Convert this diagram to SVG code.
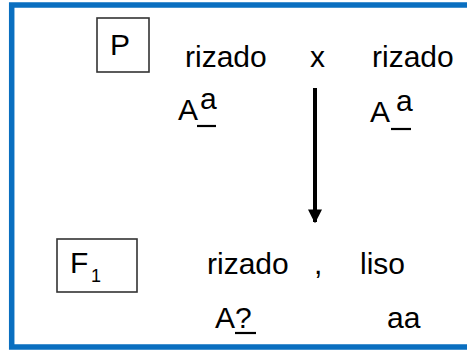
<svg xmlns="http://www.w3.org/2000/svg" width="467" height="351" viewBox="0 0 467 351">
  <style>
    .t { font-family: "Liberation Sans", Arial, sans-serif; font-size: 30px; fill: #000; }
    .sub { font-size: 18px; }
    .gen { fill: #fff; stroke: #333; stroke-width: 1.6; }
    .bar { stroke: #000; stroke-width: 2.2; }
  </style>
  <defs>
    <marker id="head" viewBox="0 0 10 10" refX="9" refY="5" markerWidth="14" markerHeight="14" markerUnits="userSpaceOnUse" orient="auto">
      <path d="M0,0 L10,5 L0,10 Z" fill="#000"/>
    </marker>
  </defs>
  <rect width="467" height="351" fill="#fff"/>
  <!-- frame: open on the right -->
  <path d="M475,5 H11.7 V347 H475" fill="none" stroke="#0A6FC0" stroke-width="5.5"/>

  <g id="gen-p">
    <rect class="gen" x="97" y="18" width="52" height="54"/>
    <text class="t" x="110" y="55">P</text>
  </g>

  <g id="parent-1">
    <text class="t" x="185" y="67">rizado</text>
    <text class="t" x="178" y="120">A</text>
    <text class="t" x="200" y="109">a</text>
    <line class="bar" x1="197" y1="126" x2="216" y2="126"/>
  </g>

  <g id="cross">
    <text class="t" x="310" y="67">x</text>
  </g>

  <g id="parent-2">
    <text class="t" x="372" y="67">rizado</text>
    <text class="t" x="370" y="122">A</text>
    <text class="t" x="396" y="111">a</text>
    <line class="bar" x1="391" y1="129" x2="411" y2="129"/>
  </g>

  <g id="gen-f1">
    <rect class="gen" x="57" y="239" width="80" height="53"/>
    <text class="t" x="70" y="273">F<tspan class="sub" x="91" y="282">1</tspan></text>
  </g>

  <g id="child-1">
    <text class="t" x="207" y="274">rizado</text>
    <text class="t" x="314" y="274">,</text>
    <text class="t" x="215" y="328">A?</text>
    <line class="bar" x1="235" y1="333" x2="256" y2="333"/>
  </g>

  <g id="child-2">
    <text class="t" x="360" y="274">liso</text>
    <text class="t" x="387" y="328">aa</text>
  </g>

  <g id="connectors">
    <line x1="315" y1="88" x2="315" y2="222" stroke="#000" stroke-width="4" marker-end="url(#head)"/>
  </g>
</svg>
